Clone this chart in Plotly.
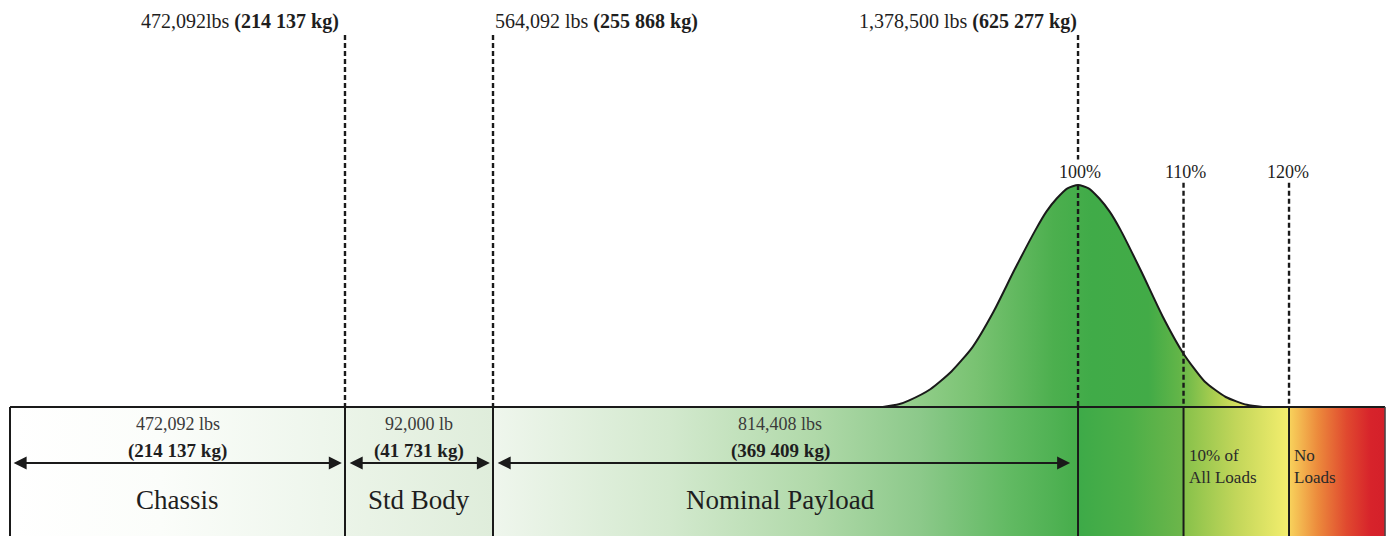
import plotly.graph_objects as go

# ---------------- data ----------------
segment_names = ["Chassis", "Std Body", "Nominal Payload"]
segment_lbs = ["472,092 lbs", "92,000 lb", "814,408 lbs"]
segment_kg = ["(214 137 kg)", "(41 731 kg)", "(369 409 kg)"]
cumulative_lbs = ["472,092lbs", "564,092 lbs", "1,378,500 lbs"]
cumulative_kg = ["(214 137 kg)", "(255 868 kg)", "(625 277 kg)"]
pct_marks = [100, 110, 120]
pct_labels = ["100%", "110%", "120%"]
zone_labels = ["10% of<br>All Loads", "No<br>Loads"]

# load distribution (% of nominal gross weight vs relative frequency)
dist_pct = [81.5, 83, 84, 86, 88, 90, 92, 94, 96, 97, 98, 99, 100, 101, 102, 103, 104, 106, 108,
            110, 112, 114, 116, 117.5]
dist_freq = [0.0, 0.012, 0.03, 0.08, 0.16, 0.27, 0.43, 0.62, 0.80, 0.88, 0.94, 0.985, 1.0,
             0.985, 0.94, 0.88, 0.80, 0.61, 0.41, 0.24, 0.115, 0.045, 0.01, 0.0]

# ---------------- schematic layout (diagram is not to scale on the left) ----------------
X_LEFT, X_CHASSIS, X_BODY, X_RIGHT = -1.23, 30.52, 44.55, 129.1
bounds = [X_LEFT, X_CHASSIS, X_BODY, pct_marks[0]]
Y_BOTTOM = -0.75
FONT = "Liberation Serif"
INK = "#1e1e1e"

fig = go.Figure()


def band(x0, x1, stops):
    fig.add_trace(go.Scatter(
        x=[x0, x1, x1, x0, x0], y=[0, 0, Y_BOTTOM, Y_BOTTOM, 0],
        mode="lines", line=dict(width=0), fill="toself",
        fillgradient=dict(type="horizontal", start=x0, stop=x1, colorscale=stops),
        hoverinfo="skip", showlegend=False))


band(X_LEFT, X_CHASSIS, [[0, "#ffffff"], [0.45, "#fbfdfa"], [1, "#ecf5ea"]])
band(X_CHASSIS, X_BODY, [[0, "#ebf4e8"], [1, "#dfeddb"]])
band(X_BODY, pct_marks[0], [[0, "#eff6ed"], [0.3, "#d3e9ce"], [0.55, "#b0d9a9"],
                             [0.73, "#8cc98a"], [0.88, "#62ba63"], [1, "#46ad4b"]])
band(pct_marks[0], pct_marks[1], [[0, "#3daa48"], [0.5, "#4daf48"], [1, "#6db64a"]])
band(pct_marks[1], pct_marks[2], [[0, "#86c14a"], [0.5, "#c2d65a"], [1, "#f4ee6e"]])
band(pct_marks[2], X_RIGHT, [[0, "#f8d35c"], [0.3, "#ec8a3c"], [0.6, "#e0492f"],
                             [0.85, "#d7232b"], [1, "#d4202a"]])

# distribution curve
fig.add_trace(go.Scatter(
    x=dist_pct, y=dist_freq, mode="lines", line=dict(color="#1a1a1a", width=2, shape="spline", smoothing=0.6),
    fill="tozeroy",
    fillgradient=dict(type="horizontal", start=dist_pct[0], stop=dist_pct[-1],
                      colorscale=[[0, "#a0d497"], [0.25, "#78c271"], [0.45, "#4caf4e"],
                                  [0.55, "#40ab48"], [0.7, "#42ab47"], [0.78, "#62b548"],
                                  [0.88, "#b0d050"], [0.96, "#e8e766"], [1, "#f2ee6e"]]),
    hoverinfo="skip", showlegend=False))

shapes = []
line_k = dict(color="#1a1a1a", width=2)
dash_k = dict(color="#1a1a1a", width=2.4, dash="5px,3px")
# box outline
shapes.append(dict(type="line", x0=X_LEFT, x1=X_RIGHT, y0=0, y1=0, line=line_k))
shapes.append(dict(type="line", x0=X_LEFT, x1=X_LEFT, y0=0, y1=Y_BOTTOM, line=line_k))
shapes.append(dict(type="line", x0=X_RIGHT, x1=X_RIGHT, y0=0, y1=Y_BOTTOM, line=dict(color="#444", width=1.5)))
# dividers inside the box
for xv in [X_CHASSIS, X_BODY] + pct_marks:
    shapes.append(dict(type="line", x0=xv, x1=xv, y0=0, y1=Y_BOTTOM, line=line_k))
# dashed leaders above the box
for xv in [X_CHASSIS, X_BODY]:
    shapes.append(dict(type="line", x0=xv, x1=xv, y0=1.675, y1=0, line=dash_k))
shapes.append(dict(type="line", x0=pct_marks[0], x1=pct_marks[0], y0=1.675, y1=1.115, line=dash_k))
shapes.append(dict(type="line", x0=pct_marks[0], x1=pct_marks[0], y0=1.0, y1=0, line=dash_k))
for xv in pct_marks[1:]:
    shapes.append(dict(type="line", x0=xv, x1=xv, y0=1.01, y1=0, line=dash_k))

ann = []
# cumulative weights on top
top_x = [X_CHASSIS, X_BODY, pct_marks[0]]
top_anchor = ["right", "left", "right"]
top_shift = [-4, 0, 1]
for i in range(3):
    ann.append(dict(x=top_x[i], y=1.735, xanchor=top_anchor[i], xshift=top_shift[i],
                    text=f"{cumulative_lbs[i]} <b>{cumulative_kg[i]}</b>",
                    font=dict(family=FONT, size=20, color=INK), showarrow=False))
# percentage marks
for xv, lab, dx in zip(pct_marks, pct_labels, [2, 2, -1]):
    ann.append(dict(x=xv, y=1.06, text=lab, xshift=dx, showarrow=False,
                    font=dict(family=FONT, size=18, color=INK)))
# segment texts inside the box
for i in range(3):
    cx = (bounds[i] + bounds[i + 1]) / 2
    if i == 2:
        cx = (bounds[i] + bounds[i + 1]) / 2 - 0.5
    ann.append(dict(x=cx, y=-0.077, text=segment_lbs[i], showarrow=False,
                    font=dict(family=FONT, size=18, color="#3a3a3a")))
    ann.append(dict(x=cx, y=-0.198, text=f"<b>{segment_kg[i]}</b>", showarrow=False,
                    font=dict(family=FONT, size=19, color=INK)))
    ann.append(dict(x=cx, y=-0.42, text=segment_names[i], showarrow=False,
                    font=dict(family=FONT, size=27, color=INK)))
# double arrows
arrow_ends = [(X_LEFT + 0.2, X_CHASSIS - 0.3), (X_CHASSIS + 0.3, X_BODY - 0.3), (X_BODY + 0.3, pct_marks[0] - 0.75)]
for a, b in arrow_ends:
    ann.append(dict(x=b, y=-0.252, ax=a, ay=-0.252, xref="x", yref="y", axref="x", ayref="y",
                    text="", showarrow=True, arrowhead=2, startarrowhead=2, arrowside="end+start",
                    arrowsize=1.3, startarrowsize=1.3, arrowwidth=2, arrowcolor="#1a1a1a",
                    standoff=0, startstandoff=0))
# zone texts
for xv, lab in zip(pct_marks[1:], zone_labels):
    ann.append(dict(x=xv, y=-0.27, xanchor="left", xshift=3, align="left", text=lab, showarrow=False,
                    font=dict(family=FONT, size=17, color="#2a2a2a")))

fig.update_layout(
    width=1390, height=536, margin=dict(l=0, r=0, t=0, b=0),
    paper_bgcolor="white", plot_bgcolor="white",
    xaxis=dict(range=[-2.18, 129.57], visible=False, fixedrange=True),
    yaxis=dict(range=[-0.581, 1.833], visible=False, fixedrange=True),
    shapes=shapes, annotations=ann, showlegend=False,
)

fig.write_html("out.html", config={"displayModeBar": False},
               post_script="document.body.style.margin='0';document.body.style.overflow='hidden';")
